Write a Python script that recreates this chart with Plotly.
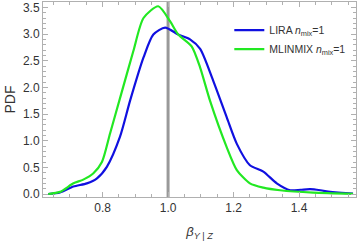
import plotly.graph_objects as go

# Data
lira_x = [0.634, 0.67, 0.711, 0.752, 0.782, 0.813, 0.853, 0.884, 0.925, 0.955, 0.991,
          1.031, 1.067, 1.098, 1.138, 1.179, 1.21, 1.25, 1.291, 1.332, 1.373, 1.405,
          1.434, 1.465, 1.495, 1.53, 1.565]
lira_y = [0.0, 0.03, 0.14, 0.2, 0.29, 0.51, 1.07, 1.75, 2.56, 2.99, 3.12,
          2.99, 2.90, 2.72, 2.12, 1.44, 0.94, 0.54, 0.42, 0.20, 0.07, 0.08,
          0.09, 0.07, 0.04, 0.02, 0.01]

mlin_x = [0.634, 0.67, 0.711, 0.741, 0.772, 0.798, 0.823, 0.858, 0.894, 0.925, 0.97,
          1.006, 1.031, 1.072, 1.098, 1.128, 1.179, 1.21, 1.25, 1.291, 1.342, 1.443, 1.565]
mlin_y = [0.0, 0.04, 0.2, 0.27, 0.39, 0.6, 1.14, 1.9, 2.68, 3.30, 3.52,
          3.24, 2.99, 2.77, 2.37, 1.75, 0.88, 0.45, 0.20, 0.12, 0.07, 0.025, 0.005]

REF_BETA = 1.0
x_ticks = [0.8, 1.0, 1.2, 1.4]
y_ticks = [0.0, 0.5, 1.0, 1.5, 2.0, 2.5, 3.0, 3.5]

FONT = "Liberation Sans, Arial, sans-serif"

fig = go.Figure()
fig.add_trace(go.Scatter(x=lira_x, y=lira_y, mode="lines",
                         line=dict(color="#1010e0", width=2.2, shape="spline", smoothing=0.7),
                         name="LIRA <i>n</i><sub>mix</sub>=1"))
fig.add_trace(go.Scatter(x=mlin_x, y=mlin_y, mode="lines",
                         line=dict(color="#22e822", width=2.2, shape="spline", smoothing=0.7),
                         name="MLINMIX <i>n</i><sub>mix</sub>=1"))
fig.add_vline(x=REF_BETA, line=dict(color="#999999", width=3), layer="below")

axis_common = dict(showgrid=False, zeroline=False, showline=True, linecolor="#b0b0b0", linewidth=1,
                   mirror="ticks", ticks="inside", ticklen=5, tickcolor="#b0b0b0", automargin=False,
                   tickfont=dict(family=FONT, size=12, color="#333333"))

fig.update_xaxes(range=[0.618, 1.574], tickvals=x_ticks, ticktext=[f"{v:.1f}" for v in x_ticks],
                 minor=dict(dtick=0.05, ticks="inside", ticklen=3, tickcolor="#b0b0b0"),
                 title=dict(text="<i>β</i><sub><i>Y</i> | <i>Z</i></sub>",
                            font=dict(family=FONT, size=13, color="#333333"), standoff=12),
                 **axis_common)
fig.update_yaxes(range=[-0.056, 3.6], tickvals=y_ticks, ticktext=[f"{v:.1f}" for v in y_ticks],
                 minor=dict(dtick=0.1, ticks="inside", ticklen=3, tickcolor="#b0b0b0"),
                 title=dict(text="PDF", font=dict(family=FONT, size=14, color="#333333"), standoff=4),
                 **axis_common)

fig.update_layout(width=361, height=241, margin=dict(l=43, r=5, t=2, b=44),
                  plot_bgcolor="white", paper_bgcolor="white",
                  font=dict(family=FONT, size=10, color="#333333"),
                  legend=dict(x=0.985, y=0.93, xanchor="right", yanchor="top", bgcolor="rgba(0,0,0,0)",
                              font=dict(family=FONT, size=10.5, color="#333333"), tracegroupgap=2))

fig.write_html("out.html", config={"displayModeBar": False},
               post_script="document.body.style.margin='0';document.body.style.overflow='hidden';")
